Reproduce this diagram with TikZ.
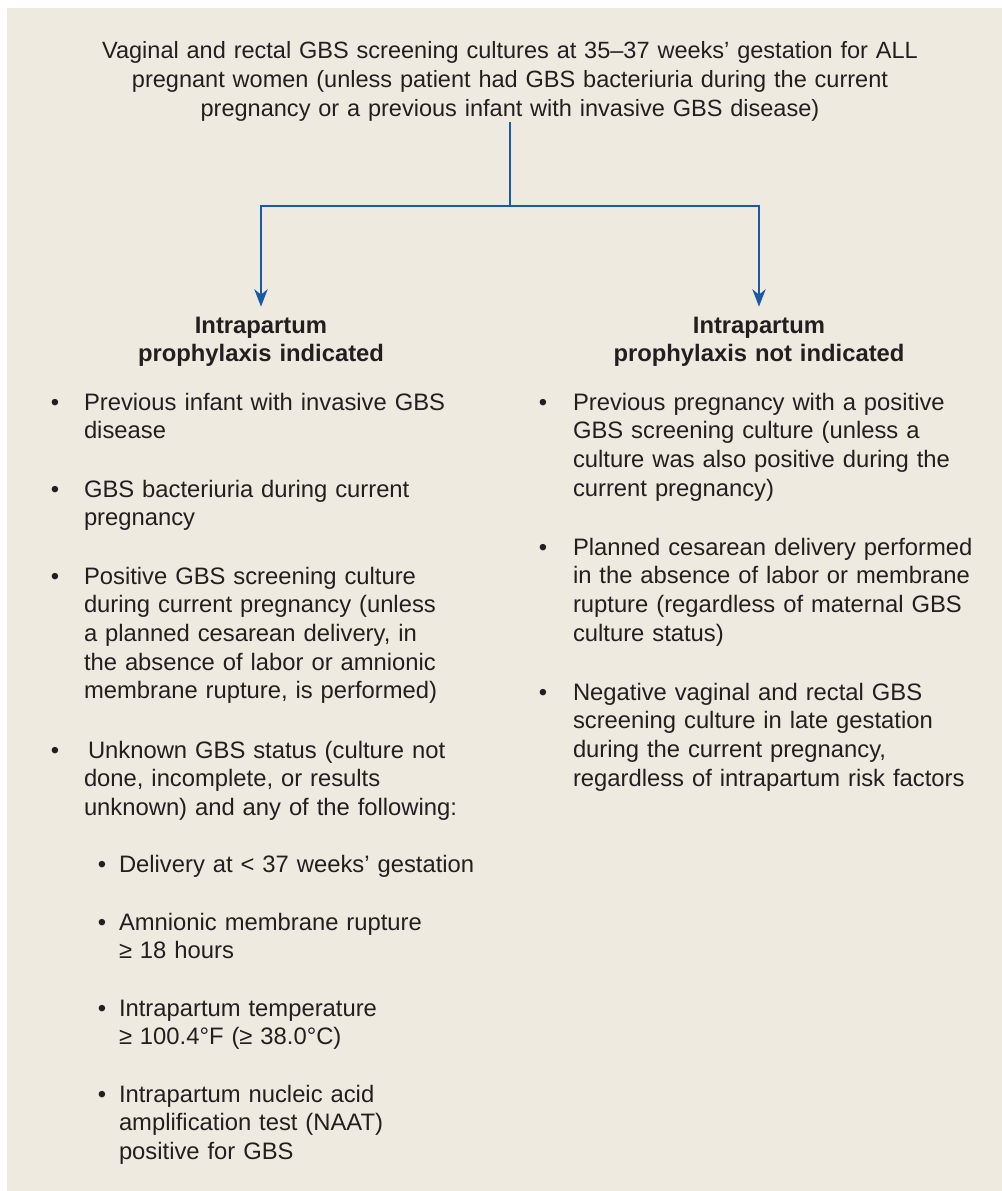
\documentclass[tikz,border=0pt]{standalone}
\usepackage{fontspec}
\setmainfont{Liberation Sans}
\usetikzlibrary{arrows.meta}
\definecolor{bg}{RGB}{238,234,224}
\definecolor{ink}{RGB}{35,31,32}
\definecolor{flowblue}{RGB}{28,88,168}
\newcommand\bodyfont{\fontsize{17.85pt}{21.55pt}\selectfont}
\newcommand\topfont{\fontsize{17.65pt}{21.75pt}\selectfont}
\tikzset{
  txt/.style={font=\bodyfont, text=ink, inner sep=0pt, outer sep=0pt, align=left, anchor=base west},
  ctxt/.style={font=\topfont, text=ink, inner sep=0pt, outer sep=0pt, align=center, anchor=base},
  head/.style={ctxt, font=\bodyfont\bfseries, text width=300pt},
  bul/.style={font=\bodyfont, text=ink, inner sep=0pt, anchor=base},
  flow/.style={draw=flowblue, line width=1.6pt},
  flowarrow/.style={flow, -{Stealth[length=13pt, width=10pt, inset=4pt]}, shorten >=7.5pt}
}
\begin{document}
\begin{tikzpicture}[x=0.75pt, y=-0.75pt]
\useasboundingbox (0,0) rectangle (1001,1191);
\fill[white] (0,0) rectangle (1001,1191);
\fill[bg] (7,8) rectangle (1010,1200);

% top box
\node[ctxt, text width=645pt] (top) at (510,59) {Vaginal and rectal GBS screening cultures at 35–37 weeks’ gestation for ALL\\pregnant women (unless patient had GBS bacteriuria during the current\\pregnancy or a previous infant with invasive GBS disease)};

% headings
\node[head] (hl) at (261,333) {Intrapartum\\prophylaxis indicated};
\node[head] (hr) at (759,333) {Intrapartum\\prophylaxis not indicated};

% connectors
\coordinate (split) at (top.south |- 0,206);
\draw[flow] (top.south) -- (split);
\draw[flowarrow] (split) -| (hl.north);
\draw[flowarrow] (split) -| (hr.north);

% left column
\node[bul] (lb1) at (55,410) {•};
\node[txt, text width=320pt] (l1) at (84,410) {Previous infant with invasive GBS\\disease};
\node[bul] (lb2) at (55,497) {•};
\node[txt, text width=320pt] (l2) at (84,497) {GBS bacteriuria during current\\pregnancy};
\node[bul] (lb3) at (55,584) {•};
\node[txt, text width=320pt] (l3) at (84,584) {Positive GBS screening culture\\during current pregnancy (unless\\a planned cesarean delivery, in\\the absence of labor or amnionic\\membrane rupture, is performed)};
\node[bul] (lb4) at (55,758) {•};
\node[txt, text width=320pt] (l4) at (84,758) {\hspace*{3pt}Unknown GBS status (culture not\\done, incomplete, or results\\unknown) and any of the following:};

% sub items
\node[bul] (sb1) at (102,872) {•};
\node[txt, text width=300pt] (s1) at (119,872) {Delivery at < 37 weeks’ gestation};
\node[bul] (sb2) at (102,930) {•};
\node[txt, text width=300pt] (s2) at (119,930) {Amnionic membrane rupture\\≥ 18 hours};
\node[bul] (sb3) at (102,1016) {•};
\node[txt, text width=300pt] (s3) at (119,1016) {Intrapartum temperature\\≥ 100.4°F (≥ 38.0°C)};
\node[bul] (sb4) at (102,1102) {•};
\node[txt, text width=300pt] (s4) at (119,1102) {Intrapartum nucleic acid\\amplification test (NAAT)\\positive for GBS};

% right column
\node[bul] (rb1) at (543,410) {•};
\node[txt, text width=330pt] (r1) at (573,410) {Previous pregnancy with a positive\\GBS screening culture (unless a\\culture was also positive during the\\current pregnancy)};
\node[bul] (rb2) at (543,555) {•};
\node[txt, text width=330pt] (r2) at (573,555) {Planned cesarean delivery performed\\in the absence of labor or membrane\\rupture (regardless of maternal GBS\\culture status)};
\node[bul] (rb3) at (543,700) {•};
\node[txt, text width=330pt] (r3) at (573,700) {Negative vaginal and rectal GBS\\screening culture in late gestation\\during the current pregnancy,\\regardless of intrapartum risk factors};
\end{tikzpicture}
\end{document}
